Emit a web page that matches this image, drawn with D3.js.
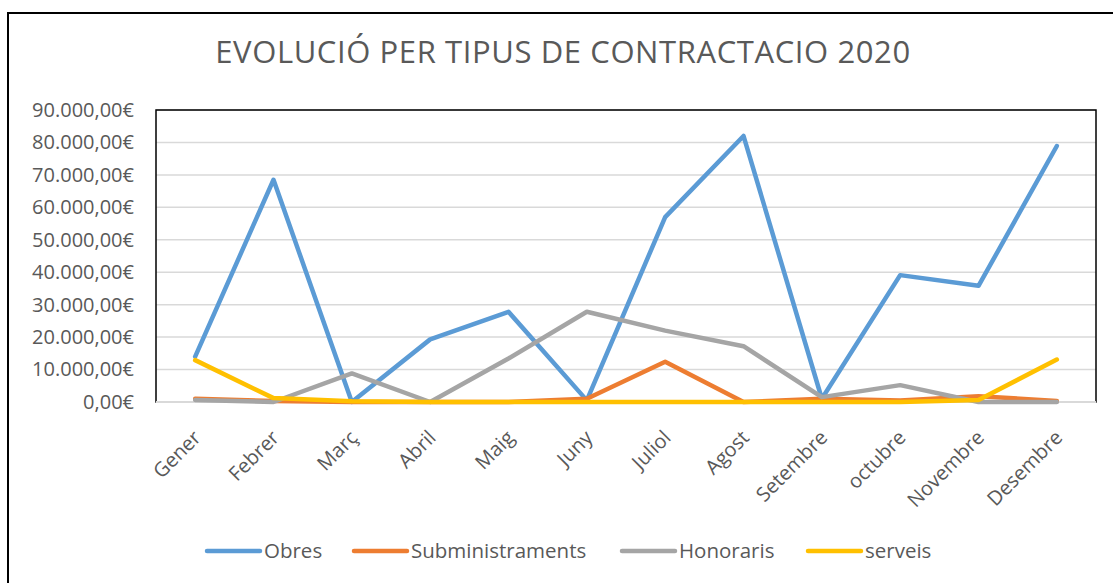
<!DOCTYPE html>
<meta charset="utf-8">
<script src="https://d3js.org/d3.v7.min.js"></script>
<style>
    body { margin: 0; background: #fff; }
    text { font-family: "Open Sans", sans-serif; fill: #595959; }
</style>
<div id="chart"></div>
<script>
    // Data
    var months = ["Gener", "Febrer", "Març", "Abril", "Maig", "Juny", "Juliol", "Agost", "Setembre", "octubre", "Novembre", "Desembre"];
    var obres = [14000, 68500, 0, 19300, 27800, 500, 57000, 82000, 1000, 39100, 35800, 78900];
    var subministraments = [1000, 300, 0, 0, 0, 1000, 12400, 0, 1000, 500, 1800, 300];
    var honoraris = [600, 0, 8800, 0, 13400, 27800, 22000, 17200, 1500, 5200, 0, 0];
    var serveis = [12900, 1200, 200, 0, 0, 0, 0, 0, 0, 0, 600, 13100];
    var seriesNames = ["Obres", "Subministraments", "Honoraris", "serveis"];
    var seriesColors = ["#5B9BD5", "#ED7D31", "#A5A5A5", "#FFC000"];
    var yTicks = [0, 10000, 20000, 30000, 40000, 50000, 60000, 70000, 80000, 90000];

    var W = 1113, H = 583;
    var margin = { top: 110, right: 17, bottom: 181, left: 156 };
    var width = W - margin.left - margin.right,
        height = H - margin.top - margin.bottom;

    var svg = d3.select("#chart").append("svg")
        .attr("width", W)
        .attr("height", H);

    // outer chart border (runs off the right and bottom edge)
    svg.append("rect")
        .attr("x", 8).attr("y", 13)
        .attr("width", W + 20).attr("height", H + 20)
        .attr("fill", "none").attr("stroke", "#000").attr("stroke-width", 2);

    svg.append("text")
        .attr("x", 563).attr("y", 63)
        .attr("text-anchor", "middle")
        .attr("font-size", 31)
        .attr("letter-spacing", 0.6)
        .text("EVOLUCIÓ PER TIPUS DE CONTRACTACIO 2020");

    var g = svg.append("g")
        .attr("transform", "translate(" + margin.left + "," + margin.top + ")");

    var x = d3.scaleBand().domain(months).range([0, width]);
    var y = d3.scaleLinear().domain([0, 90000]).range([height, 0]);

    var fmt = function (v) {
        var s = d3.format(",.2f")(v);
        return s.replace(/,/g, "#").replace(".", ",").replace(/#/g, ".") + "€";
    };

    // gridlines
    g.selectAll(".grid").data(yTicks).enter().append("line")
        .attr("x1", 0).attr("x2", width)
        .attr("y1", function (d) { return y(d); })
        .attr("y2", function (d) { return y(d); })
        .attr("stroke", "#D9D9D9").attr("stroke-width", 1.5);

    // plot area border
    g.append("rect")
        .attr("x", 0).attr("y", 0)
        .attr("width", width).attr("height", height)
        .attr("fill", "none").attr("stroke", "#000").attr("stroke-width", 1.5);
    g.append("line")
        .attr("x1", 0).attr("x2", width)
        .attr("y1", height).attr("y2", height)
        .attr("stroke", "#D9D9D9").attr("stroke-width", 2);

    // y axis
    var yAxis = g.append("g")
        .call(d3.axisLeft(y).tickValues(yTicks).tickFormat(fmt).tickSize(0).tickPadding(22));
    yAxis.select(".domain").remove();
    yAxis.selectAll("text")
        .attr("font-size", 20)
        .attr("fill", "#595959")
        .style("font-family", "'Open Sans', sans-serif");

    // x axis labels rotated
    g.selectAll(".xlab").data(months).enter().append("text")
        .attr("transform", function (d) {
            return "translate(" + (x(d) + x.bandwidth() / 2 - 3) + "," + (height + 27) + ") rotate(-45)";
        })
        .attr("text-anchor", "end")
        .attr("dy", "0.7em")
        .attr("font-size", 20)
        .text(function (d) { return d; });

    // lines
    var allSeries = [obres, subministraments, honoraris, serveis];
    var line = d3.line()
        .x(function (d, i) { return x(months[i]) + x.bandwidth() / 2; })
        .y(function (d) { return y(d); });

    allSeries.forEach(function (s, i) {
        g.append("path")
            .datum(s)
            .attr("d", line)
            .attr("fill", "none")
            .attr("stroke", seriesColors[i])
            .attr("stroke-width", 4.5)
            .attr("stroke-linejoin", "round")
            .attr("stroke-linecap", "round");
    });

    // legend
    var legendX = [207, 354, 622, 808];
    var legend = svg.append("g");
    seriesNames.forEach(function (name, i) {
        legend.append("line")
            .attr("x1", legendX[i]).attr("x2", legendX[i] + 53)
            .attr("y1", 551).attr("y2", 551)
            .attr("stroke", seriesColors[i])
            .attr("stroke-width", 4.5)
            .attr("stroke-linecap", "round");
        legend.append("text")
            .attr("x", legendX[i] + 57).attr("y", 551)
            .attr("dy", "0.35em")
            .attr("font-size", 20.5)
            .text(name);
    });
</script>
